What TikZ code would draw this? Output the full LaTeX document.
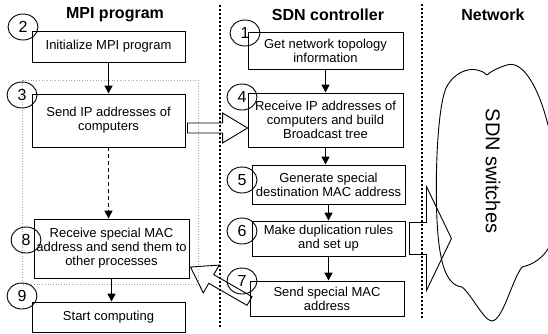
\documentclass[tikz,border=0pt]{standalone}
\usepackage{fontspec}
\setmainfont{Liberation Sans}
\usetikzlibrary{shapes.geometric,arrows.meta,calc}
\newcommand\hollowarr[5]{%
  \coordinate (habase) at ($(#2)!#5!(#1)$);
  \draw[hollow] ($(#1)!#3!90:(#2)$) -- ($(habase)!#3!90:(#2)$) -- ($(habase)!#4!90:(#2)$)
    -- (#2) -- ($(habase)!#4!-90:(#2)$) -- ($(habase)!#3!-90:(#2)$) -- ($(#1)!#3!-90:(#2)$) -- cycle;}
\begin{document}
\begin{tikzpicture}[x=1pt,y=-1pt,
  box/.style={draw, line width=0.9pt, align=center, inner sep=1pt, font=\fontsize{13}{14}\selectfont},
  num/.style={draw, ellipse, line width=0.9pt, minimum width=30pt, minimum height=26pt, inner sep=0pt, font=\fontsize{16}{16}\selectfont},
  title/.style={font=\bfseries\fontsize{16}{18}\selectfont},
  arr/.style={line width=1.5pt, -{Triangle[length=8pt,width=8pt]}},
  divider/.style={line width=1.6pt, dash pattern=on 2pt off 2pt},
  hollow/.style={draw, line width=0.9pt, line join=miter}]
\useasboundingbox (0,0) rectangle (548,333);

% titles
\node[title] (t1) at (115,15) {MPI program};
\node[title] (t2) at (328,15) {SDN controller};
\node[title] (t3) at (493,15) {Network};

% dividers
\draw[divider] (220,5) -- (220,327);
\draw[divider] (422,4) -- (422,319);

% dotted group
\draw[gray!70, dotted, line width=0.7pt] (22,80) rectangle (198,284);

% cloud
\begin{scope}
\clip (0,0) rectangle (548,333);
\draw[line width=0.9pt] (487,75) .. controls (475,64) and (455,70) .. (446,88)
  .. controls (437,110) and (435,180) .. (437,220)
  .. controls (439,260) and (445,285) .. (462,287)
  .. controls (472,295) and (484,321) .. (492,321)
  .. controls (503,320) and (512,280) .. (522,267)
  .. controls (545,262) and (560,240) .. (558,200)
  .. controls (557,160) and (555,140) .. (548,125)
  .. controls (538,85) and (522,60) .. (507,65)
  .. controls (497,68) and (490,72) .. (487,75);
\end{scope}
\node[rotate=-90, font=\fontsize{20}{20}\selectfont] (sw) at (493,171) {SDN switches};

% MPI boxes
\node[box, minimum width=153pt, minimum height=31pt] (b2) at (108.5,46.5) {Initialize MPI program};
\node[box, minimum width=153pt, minimum height=53pt] (b3) at (108.5,120.5) {Send IP addresses of\\computers};
\node[box, minimum width=155pt, minimum height=59pt] (b8) at (111.5,248.5) {Receive special MAC\\address and send them to\\other processes};
\node[box, minimum width=153pt, minimum height=30pt] (b9) at (108.5,317) {Start computing};

% SDN boxes
\node[box, minimum width=155pt, minimum height=37pt] (b1) at (325.5,50.5) {Get network topology\\information};
\node[box, minimum width=155pt, minimum height=54pt] (b4) at (325.5,120) {Receive IP addresses of\\computers and build\\Broadcast tree};
\node[box, minimum width=153pt, minimum height=39pt] (b5) at (328.5,184.5) {Generate special\\destination MAC address};
\node[box, minimum width=153pt, minimum height=35pt] (b6) at (328.5,238.5) {Make duplication rules\\and set up};
\node[box, minimum width=154pt, minimum height=35pt] (b7) at (327,298.5) {Send special MAC\\address};

% numbers
\node[num] (n2) at (23,27) {2};
\node[num] (n3) at (22,95) {3};
\node[num] (n8) at (26,240) {8};
\node[num] (n9) at (22,296) {9};
\node[num] (n1) at (245,33) {1};
\node[num] (n4) at (242,97) {4};
\node[num] (n5) at (242,180) {5};
\node[num] (n6) at (242,231) {6};
\node[num] (n7) at (242,281) {7};

% flow arrows
\draw[arr] (b2.south) -- (b2.south |- b3.north);
\draw[arr, dash pattern=on 4pt off 3pt] (b3.south) -- (b3.south |- b8.north);
\draw[arr] (b8.south) -- (b8.south |- b9.north);
\draw[arr] (b1.south) -- (b1.south |- b4.north);
\draw[arr] (b4.south) -- (b4.south |- b5.north);
\draw[arr] (b5.south) -- (b5.south |- b6.north);
\draw[arr] (b6.south) -- (b6.south |- b7.north);

% hollow arrows
\coordinate (a34s) at ($(b3.east)+(2,7.5)$);
\coordinate (a34t) at (b4.west |- a34s);
\hollowarr{a34s}{a34t}{5pt}{15pt}{25pt}
\coordinate (a6s) at ($(b6.east)+(4,0)$);
\coordinate (a6t) at ($(b6.east)+(46,0)$);
\hollowarr{a6s}{a6t}{16pt}{52pt}{25pt}
\coordinate (a78s) at ($(b7.west)+(0,2.5)$);
\coordinate (a78t) at ($(b8.east)+(1,18.5)$);
\hollowarr{a78s}{a78t}{5pt}{16pt}{24pt}
\end{tikzpicture}
\end{document}
